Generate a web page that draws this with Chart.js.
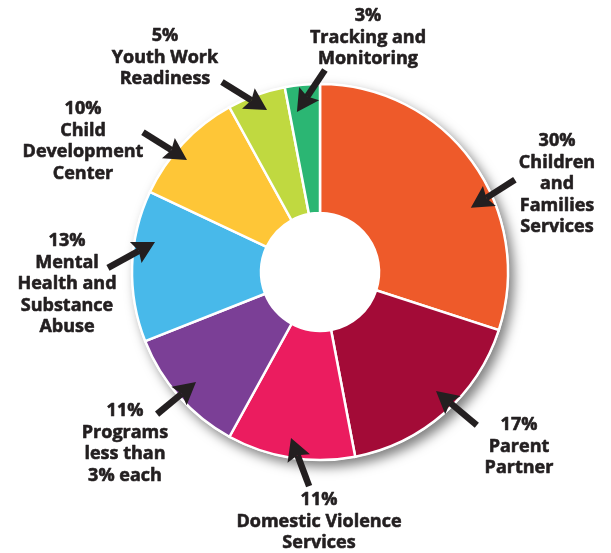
<!DOCTYPE html>
<html>
<head>
<meta charset="utf-8">
<script src="https://cdn.jsdelivr.net/npm/chart.js@4"></script>
<style>
  html, body { margin: 0; padding: 0; background: #ffffff; }
  #wrap { width: 611px; height: 553px; position: relative; }
</style>
</head>
<body>
<div id="wrap"><canvas id="c" width="611" height="553"></canvas></div>
<script>
// ---- data ----
const categories = [
  'Children and Families Services',
  'Parent Partner',
  'Domestic Violence Services',
  'Programs less than 3% each',
  'Mental Health and Substance Abuse',
  'Child Development Center',
  'Youth Work Readiness',
  'Tracking and Monitoring'
];
const shares = [30, 17, 11, 11, 13, 10, 5, 3];
const labelLines = [
  ['Children', 'and', 'Families', 'Services'],
  ['Parent', 'Partner'],
  ['Domestic Violence', 'Services'],
  ['Programs', 'less than', '3% each'],
  ['Mental', 'Health and', 'Substance', 'Abuse'],
  ['Child', 'Development', 'Center'],
  ['Youth Work', 'Readiness'],
  ['Tracking and', 'Monitoring']
];

// ---- styles / layout ----
const sliceColors = ['#EE5A2A', '#A30B37', '#EB1C5F', '#7B3F96', '#48B9EA', '#FEC637', '#C0D940', '#2BB673'];
const textColor = '#231F20';
// label block: centre x, cap-centre y of first line
const labelPos = [
  [557, 140], [519, 424], [319, 499], [125, 410],
  [67, 240], [83, 108], [165, 35], [368, 15]
];
// arrow: tip = fraction through slice angle & fraction of radius; tail = angle delta (deg) & radius fraction
const arrowSpec = [
  {t: 0.62, r: 0.872, da: -2.3, tr: 1.147},
  {t: 0.453, r: 0.884, da: -1.4, tr: 1.166},
  {t: 0.523, r: 0.896, da: -7.0, tr: 1.14},
  {t: 0.495, r: 0.882, da: 0.5, tr: 1.15},
  {t: 0.682, r: 0.892, da: -9.2, tr: 1.128},
  {t: 0.414, r: 0.925, da: -1.8, tr: 1.2},
  {t: 0.594, r: 0.906, da: -9.2, tr: 1.137},
  {t: 0.24, r: 0.86, da: 9.6, tr: 1.075}
];
const LINE_H = 21.5;
const FONT_SIZE = 18;
const FONT_FAMILY = '"Open Sans", "DejaVu Sans", sans-serif';

const shadowPlugin = {
  id: 'ringShadow',
  beforeDatasetsDraw(chart) {
    const arc = chart.getDatasetMeta(0).data[0];
    if (!arc) return;
    const ctx = chart.ctx;
    ctx.save();
    ctx.shadowColor = 'rgba(0,0,0,0.5)';
    ctx.shadowBlur = 12;
    ctx.shadowOffsetX = 5;
    ctx.shadowOffsetY = 6;
    ctx.fillStyle = '#ffffff';
    ctx.beginPath();
    ctx.arc(arc.x, arc.y, arc.outerRadius + 1, 0, Math.PI * 2);
    ctx.fill();
    ctx.restore();
  }
};

function drawArrow(ctx, x1, y1, x2, y2) {
  const dx = x2 - x1, dy = y2 - y1;
  const len = Math.hypot(dx, dy);
  const ux = dx / len, uy = dy / len;
  const px = -uy, py = ux;
  const headL = 22, headW = 12, notch = 3.5, shaftW = 6.5;
  const bx = x2 - ux * headL, by = y2 - uy * headL;
  ctx.save();
  ctx.fillStyle = textColor;
  ctx.strokeStyle = textColor;
  ctx.lineWidth = shaftW;
  ctx.lineCap = 'butt';
  ctx.beginPath();
  ctx.moveTo(x1, y1);
  ctx.lineTo(bx + ux * notch, by + uy * notch);
  ctx.stroke();
  ctx.beginPath();
  ctx.moveTo(x2, y2);
  ctx.lineTo(bx + px * headW, by + py * headW);
  ctx.lineTo(bx + ux * notch, by + uy * notch);
  ctx.lineTo(bx - px * headW, by - py * headW);
  ctx.closePath();
  ctx.fill();
  ctx.restore();
}

const labelPlugin = {
  id: 'calloutLabels',
  afterDraw(chart) {
    const meta = chart.getDatasetMeta(0);
    const ctx = chart.ctx;
    ctx.save();
    ctx.font = 'bold ' + FONT_SIZE + 'px ' + FONT_FAMILY;
    ctx.fillStyle = textColor;
    ctx.strokeStyle = textColor;
    ctx.lineWidth = 0.6;
    ctx.lineJoin = 'round';
    ctx.textAlign = 'center';
    ctx.textBaseline = 'alphabetic';
    const capHalf = FONT_SIZE * 0.714 / 2;
    meta.data.forEach((arc, i) => {
      const sp = arrowSpec[i];
      const a0 = arc.startAngle, a1 = arc.endAngle;
      const tipA = a0 + (a1 - a0) * sp.t;
      const tailA = tipA + sp.da * Math.PI / 180;
      const R = arc.outerRadius;
      const tx = arc.x + Math.cos(tipA) * R * sp.r;
      const ty = arc.y + Math.sin(tipA) * R * sp.r;
      const sx = arc.x + Math.cos(tailA) * R * sp.tr;
      const sy = arc.y + Math.sin(tailA) * R * sp.tr;
      drawArrow(ctx, sx, sy, tx, ty);
      const lines = [shares[i] + '%'].concat(labelLines[i]);
      const [cx, cy] = labelPos[i];
      lines.forEach((ln, k) => {
        const y = cy + k * LINE_H + capHalf;
        ctx.fillText(ln, cx, y);
        ctx.strokeText(ln, cx, y);
      });
    });
    ctx.restore();
  }
};

new Chart(document.getElementById('c'), {
  type: 'doughnut',
  data: {
    labels: categories,
    datasets: [{
      data: shares,
      backgroundColor: sliceColors,
      borderColor: '#ffffff',
      borderWidth: 2.5,
      borderJoinStyle: 'miter'
    }]
  },
  options: {
    responsive: false,
    animation: false,
    radius: 188,
    cutout: '31.4%',
    rotation: 0,
    layout: { padding: { left: 29, right: 0, top: 0, bottom: 9 } },
    plugins: {
      legend: { display: false },
      tooltip: { enabled: false },
      title: { display: false }
    }
  },
  plugins: [shadowPlugin, labelPlugin]
});
</script>
</body>
</html>
